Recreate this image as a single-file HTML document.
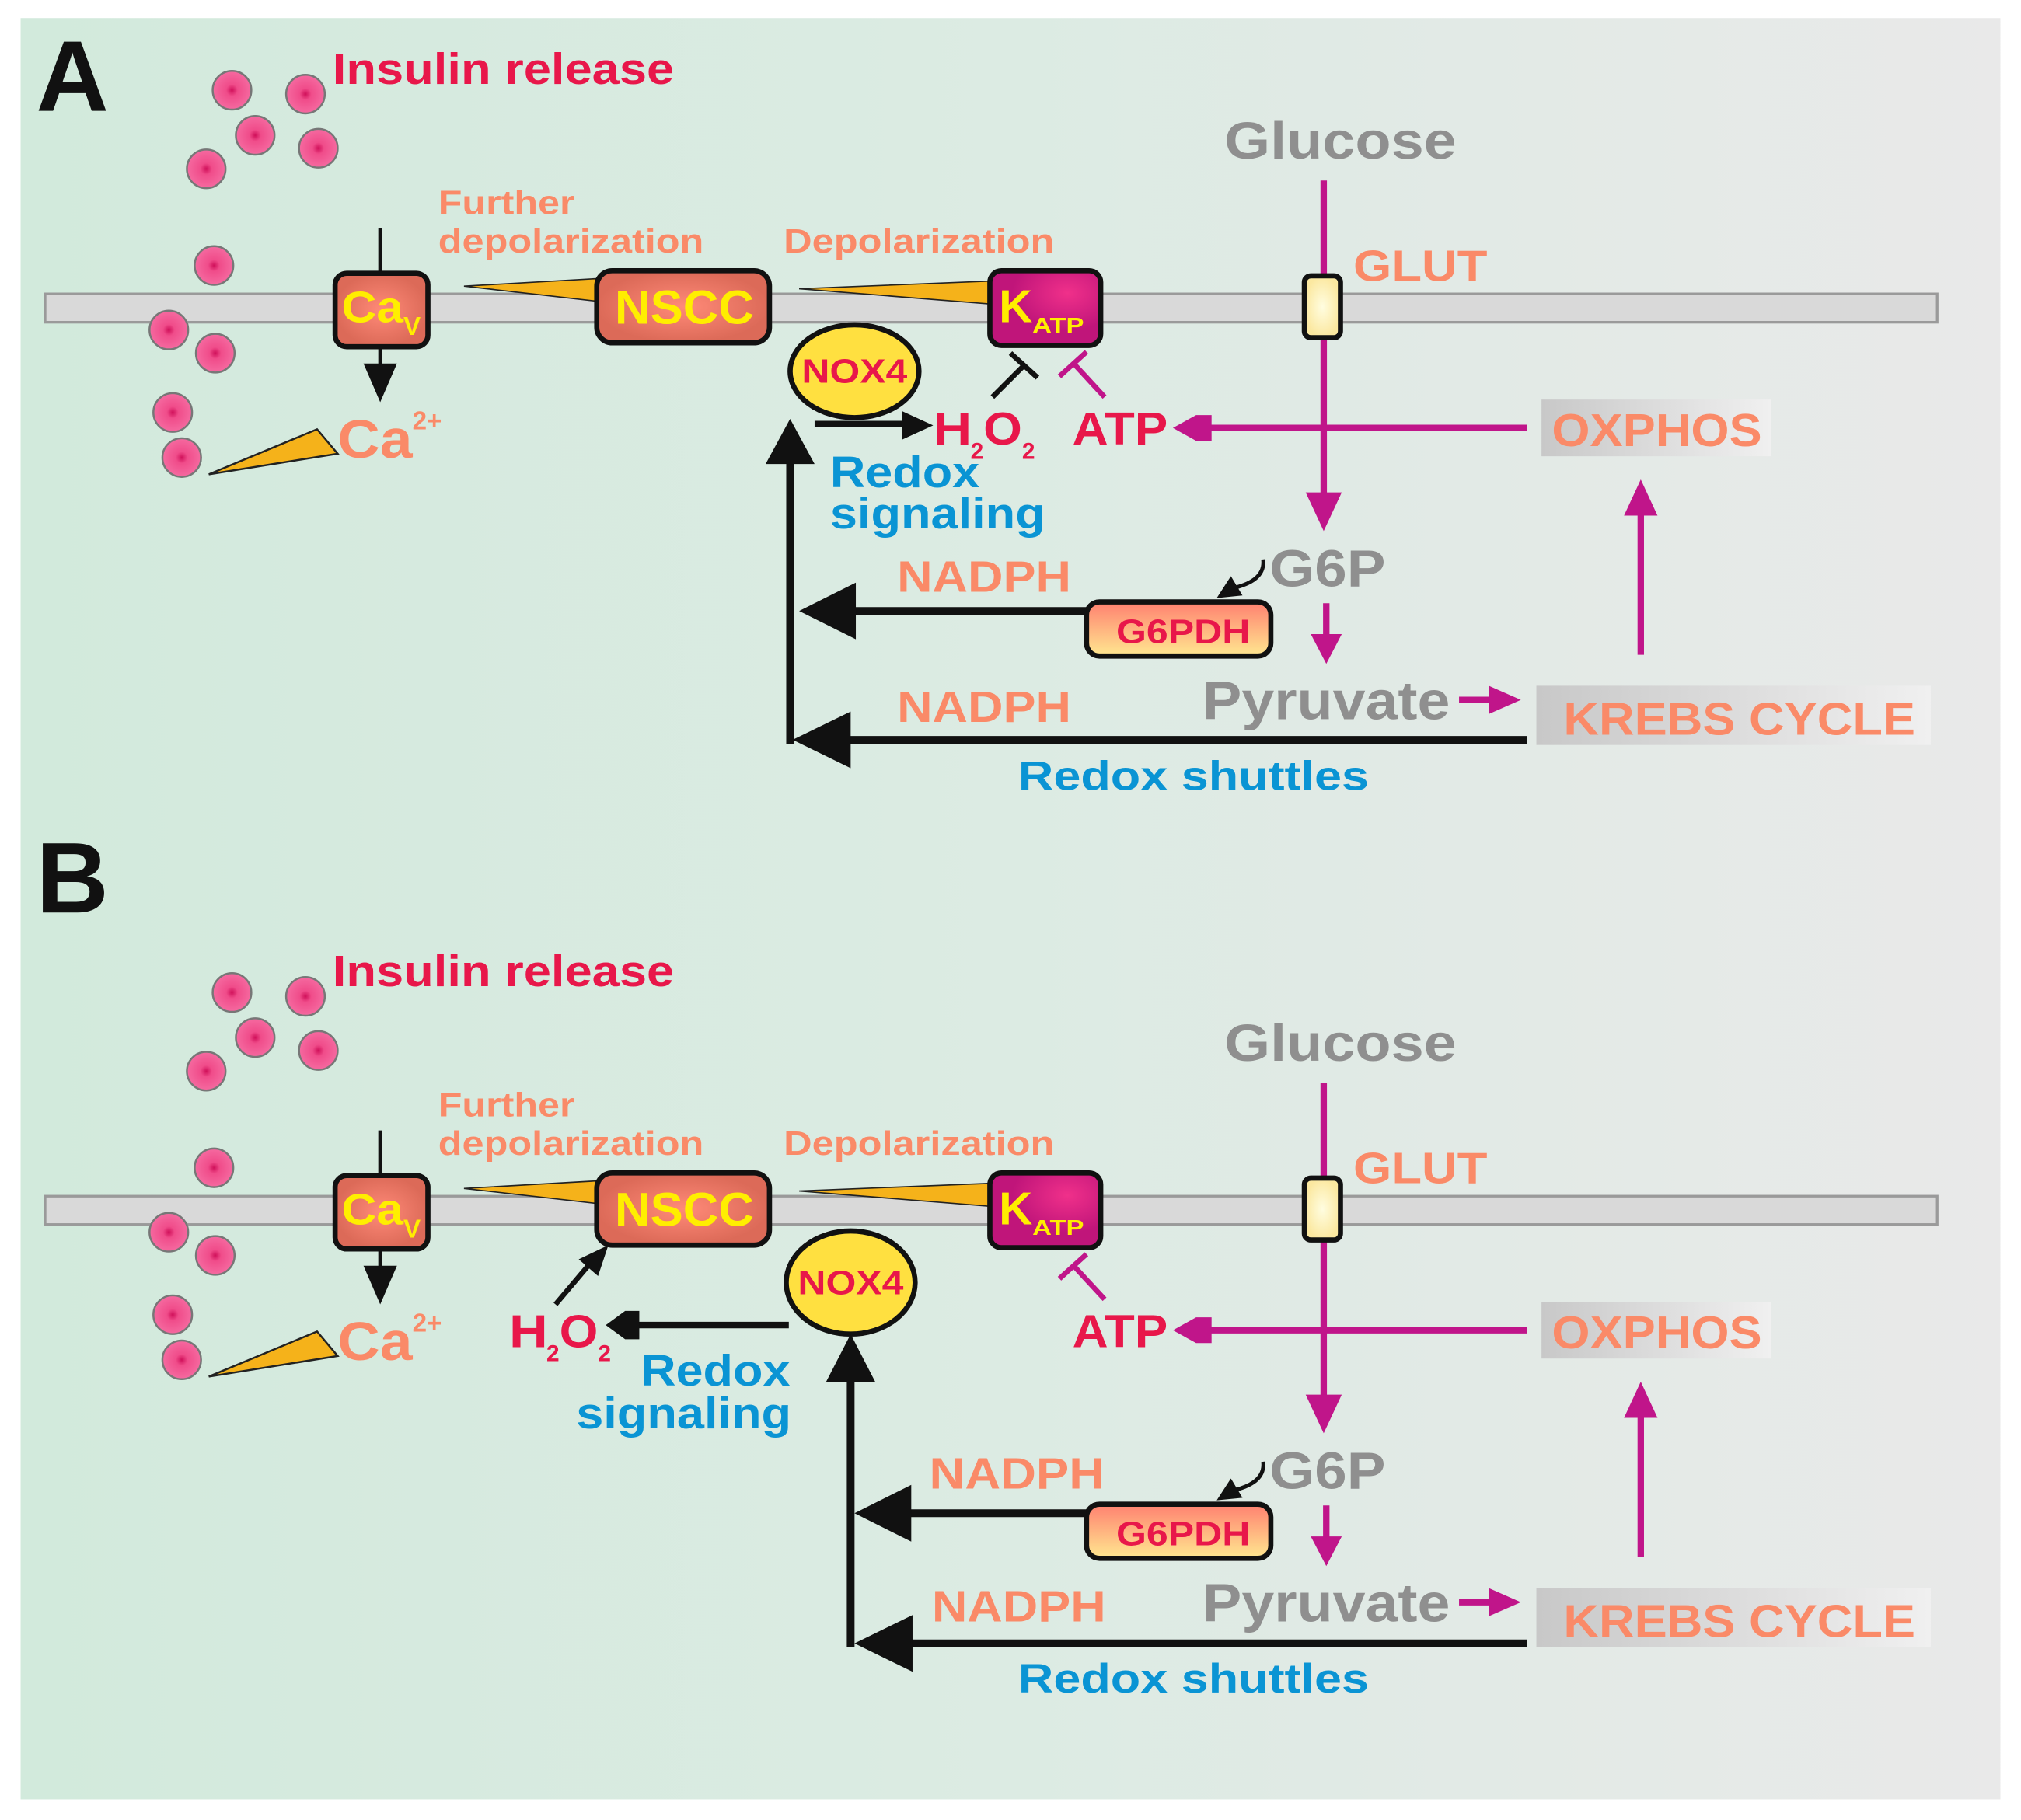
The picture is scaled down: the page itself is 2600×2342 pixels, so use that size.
<!DOCTYPE html>
<html><head><meta charset="utf-8"><style>
html,body{margin:0;padding:0;background:#fff}
svg{display:block}
text{font-family:"Liberation Sans",sans-serif;font-weight:bold}
.sal{fill:#fa8a68}.cr{fill:#e8174a}.gr{fill:#8f8f8f}.bl{fill:#0a94d4}.ye{fill:#ffee00}
</style></head><body>
<svg width="2600" height="2342" viewBox="0 0 1568 1412" preserveAspectRatio="none" xmlns="http://www.w3.org/2000/svg">
<defs>
<linearGradient id="bg" x1="0" x2="1" y1="0" y2="0"><stop offset="0" stop-color="#d2eadc"/><stop offset="0.5" stop-color="#dcebe3"/><stop offset="1" stop-color="#e9e9e9"/></linearGradient>
<radialGradient id="ves"><stop offset="0" stop-color="#d0105a"/><stop offset="0.3" stop-color="#f04c8a"/><stop offset="1" stop-color="#f56aa0"/></radialGradient>
<radialGradient id="ch"><stop offset="0" stop-color="#ff8a78"/><stop offset="1" stop-color="#dc6a58"/></radialGradient>
<radialGradient id="kat" cx="0.7" cy="0.3"><stop offset="0" stop-color="#f0308a"/><stop offset="1" stop-color="#c0157a"/></radialGradient>
<linearGradient id="g6" x1="0" y1="0" x2="0" y2="1"><stop offset="0" stop-color="#ff8070"/><stop offset="1" stop-color="#ffe890"/></linearGradient>
<linearGradient id="box" x1="0" x2="1"><stop offset="0" stop-color="#c8c8c8"/><stop offset="1" stop-color="#f0f0f0"/></linearGradient>
<radialGradient id="glu"><stop offset="0" stop-color="#fffde0"/><stop offset="1" stop-color="#fbe8a0"/></radialGradient>
<g id="common">
 <rect x="35" y="228" width="1468" height="22" fill="#d9d9d9" stroke="#9a9a9a" stroke-width="2"/>
 <!-- vesicles -->
 <g fill="url(#ves)" stroke="#777" stroke-width="1.5">
  <circle cx="180" cy="70" r="15"/><circle cx="237" cy="73" r="15"/><circle cx="198" cy="105" r="15"/><circle cx="247" cy="115" r="15"/><circle cx="160" cy="131" r="15"/><circle cx="166" cy="206" r="15"/><circle cx="131" cy="256" r="15"/><circle cx="167" cy="274" r="15"/><circle cx="134" cy="320" r="15"/><circle cx="141" cy="355" r="15"/>
 </g>
 <!-- wedges -->
 <polygon points="360,222 466,216 466,234" fill="#f5b21a" stroke="#222" stroke-width="1"/>
 <polygon points="620,224 770,218 770,236" fill="#f5b21a" stroke="#222" stroke-width="1"/>
 <polygon points="162,368 246,333 262,352" fill="#f5b21a" stroke="#222" stroke-width="1.5"/>
 <!-- Cav -->
 <line x1="295" y1="177" x2="295" y2="285" stroke="#111" stroke-width="3"/>
 <polygon points="282,282 308,282 295,312" fill="#111"/>
 <rect x="260" y="212" width="72" height="57" rx="9" fill="url(#ch)" stroke="#111" stroke-width="4"/>
 <text x="265" y="250" font-size="34" class="ye" textLength="48" lengthAdjust="spacingAndGlyphs">Ca</text>
 <text x="313" y="260" font-size="20" class="ye">V</text>
 <text x="262" y="355" font-size="42" class="sal" textLength="58" lengthAdjust="spacingAndGlyphs">Ca</text>
 <text x="320" y="333" font-size="20" class="sal">2+</text>
 <!-- NSCC -->
 <rect x="463" y="210" width="134" height="56" rx="12" fill="url(#ch)" stroke="#111" stroke-width="4"/>
 <text x="477" y="251" font-size="37" class="ye" textLength="108" lengthAdjust="spacingAndGlyphs">NSCC</text>
 <!-- KATP -->
 <rect x="768" y="210" width="86" height="58" rx="9" fill="url(#kat)" stroke="#111" stroke-width="4"/>
 <text x="775" y="250" font-size="36" class="ye">K</text>
 <text x="801" y="258" font-size="17" class="ye" textLength="40" lengthAdjust="spacingAndGlyphs">ATP</text>
 <!-- glucose path -->
 <line x1="1027" y1="140" x2="1027" y2="390" stroke="#c0158a" stroke-width="5"/>
 <polygon points="1013,382 1041,382 1027,412" fill="#c0158a"/>
 <rect x="1012" y="214" width="28" height="48" rx="5" fill="url(#glu)" stroke="#111" stroke-width="4"/>
 <text x="950" y="123" font-size="40" class="gr" textLength="180" lengthAdjust="spacingAndGlyphs">Glucose</text>
 <text x="1050" y="218" font-size="34" class="sal" textLength="104" lengthAdjust="spacingAndGlyphs">GLUT</text>
 <text x="340" y="166" font-size="26" class="sal" textLength="106" lengthAdjust="spacingAndGlyphs">Further</text>
 <text x="340" y="196" font-size="26" class="sal" textLength="206" lengthAdjust="spacingAndGlyphs">depolarization</text>
 <text x="608" y="196" font-size="26" class="sal" textLength="210" lengthAdjust="spacingAndGlyphs">Depolarization</text>
 <text x="258" y="65" font-size="34" class="cr" textLength="265" lengthAdjust="spacingAndGlyphs">Insulin release</text>
 <!-- ATP / OXPHOS -->
 <line x1="1185" y1="332" x2="930" y2="332" stroke="#c0158a" stroke-width="5"/>
 <polygon points="910,332 928,322 940,322 940,342 928,342" fill="#c0158a"/>
 <line x1="857" y1="308" x2="833" y2="282" stroke="#c0158a" stroke-width="4"/>
 <line x1="822" y1="292" x2="843" y2="273" stroke="#c0158a" stroke-width="4"/>
 <text x="832" y="345" font-size="36" class="cr" textLength="74" lengthAdjust="spacingAndGlyphs">ATP</text>
 <rect x="1196" y="310" width="178" height="44" fill="url(#box)"/>
 <text x="1204" y="346" font-size="36" class="sal" textLength="163" lengthAdjust="spacingAndGlyphs">OXPHOS</text>
 <line x1="1273" y1="508" x2="1273" y2="395" stroke="#c0158a" stroke-width="5"/>
 <polygon points="1260,400 1286,400 1273,372" fill="#c0158a"/>
 <!-- G6P -->
 <text x="985" y="455" font-size="40" class="gr" textLength="90" lengthAdjust="spacingAndGlyphs">G6P</text>
 <path d="M980,434 Q982,450 958,456" fill="none" stroke="#111" stroke-width="3"/>
 <polygon points="944,464 955,447 964,462" fill="#111"/>
 <rect x="843" y="467" width="143" height="42" rx="10" fill="url(#g6)" stroke="#111" stroke-width="4"/>
 <text x="866" y="499" font-size="26" class="cr" textLength="104" lengthAdjust="spacingAndGlyphs">G6PDH</text>
 <line x1="1029" y1="468" x2="1029" y2="500" stroke="#c0158a" stroke-width="5"/>
 <polygon points="1017,492 1041,492 1029,515" fill="#c0158a"/>
 <text x="933" y="558" font-size="42" class="gr" textLength="192" lengthAdjust="spacingAndGlyphs">Pyruvate</text>
 <line x1="1132" y1="543" x2="1162" y2="543" stroke="#c0158a" stroke-width="5"/>
 <polygon points="1155,532 1180,543 1155,554" fill="#c0158a"/>
 <rect x="1192" y="532" width="306" height="46" fill="url(#box)"/>
 <text x="1213" y="570" font-size="36" class="sal" textLength="273" lengthAdjust="spacingAndGlyphs">KREBS CYCLE</text>
 <text x="790" y="613" font-size="32" class="bl" textLength="272" lengthAdjust="spacingAndGlyphs">Redox shuttles</text>
</g>
</defs>
<rect x="0" y="0" width="1568" height="1412" fill="#fff"/>
<rect x="16" y="14" width="1536" height="1382" fill="url(#bg)"/>

<!-- Panel A -->
<text x="28" y="86" font-size="78" fill="#111" font-family="Liberation Sans">A</text>
<use href="#common"/>
<ellipse cx="663" cy="288" rx="50" ry="36" fill="#ffe040" stroke="#111" stroke-width="4"/>
<text x="622" y="297" font-size="26" class="cr" textLength="82" lengthAdjust="spacingAndGlyphs">NOX4</text>
<line x1="632" y1="329" x2="705" y2="329" stroke="#111" stroke-width="5"/>
<polygon points="700,319 724,330 700,341" fill="#111"/>
<text x="724" y="345" font-size="36" class="cr" textLength="30" lengthAdjust="spacingAndGlyphs">H</text>
<text x="753" y="356" font-size="18" class="cr">2</text>
<text x="763" y="345" font-size="36" class="cr" textLength="30" lengthAdjust="spacingAndGlyphs">O</text>
<text x="793" y="356" font-size="18" class="cr">2</text>
<line x1="770" y1="308" x2="795" y2="283" stroke="#111" stroke-width="4"/>
<line x1="784" y1="274" x2="805" y2="293" stroke="#111" stroke-width="4"/>
<text x="644" y="378" font-size="34" class="bl" textLength="116" lengthAdjust="spacingAndGlyphs">Redox</text>
<text x="644" y="410" font-size="34" class="bl" textLength="167" lengthAdjust="spacingAndGlyphs">signaling</text>
<text x="696" y="459" font-size="34" class="sal" textLength="135" lengthAdjust="spacingAndGlyphs">NADPH</text>
<text x="696" y="560" font-size="34" class="sal" textLength="135" lengthAdjust="spacingAndGlyphs">NADPH</text>
<line x1="843" y1="474" x2="650" y2="474" stroke="#111" stroke-width="6"/>
<polygon points="620,474 664,452 664,496" fill="#111"/>
<line x1="1185" y1="574" x2="645" y2="574" stroke="#111" stroke-width="6"/>
<polygon points="615,574 660,552 660,596" fill="#111"/>
<line x1="613" y1="577" x2="613" y2="350" stroke="#111" stroke-width="6"/>
<polygon points="613,325 594,360 632,360" fill="#111"/>

<!-- Panel B -->
<text x="28" y="708" font-size="78" fill="#111" font-family="Liberation Sans">B</text>
<use href="#common" transform="translate(0,700)"/>
<ellipse cx="660" cy="995" rx="50" ry="40" fill="#ffe040" stroke="#111" stroke-width="4"/>
<text x="619" y="1004" font-size="26" class="cr" textLength="82" lengthAdjust="spacingAndGlyphs">NOX4</text>
<line x1="612" y1="1028" x2="490" y2="1028" stroke="#111" stroke-width="5"/>
<polygon points="470,1028 485,1017 496,1017 496,1039 485,1039" fill="#111"/>
<text x="395" y="1045" font-size="36" class="cr" textLength="30" lengthAdjust="spacingAndGlyphs">H</text>
<text x="424" y="1056" font-size="18" class="cr">2</text>
<text x="434" y="1045" font-size="36" class="cr" textLength="30" lengthAdjust="spacingAndGlyphs">O</text>
<text x="464" y="1056" font-size="18" class="cr">2</text>
<line x1="431" y1="1012" x2="458" y2="980" stroke="#111" stroke-width="4"/>
<polygon points="472,966 449,977 464,990" fill="#111"/>
<text x="497" y="1075" font-size="34" class="bl" textLength="116" lengthAdjust="spacingAndGlyphs">Redox</text>
<text x="447" y="1108" font-size="34" class="bl" textLength="167" lengthAdjust="spacingAndGlyphs">signaling</text>
<text x="721" y="1155" font-size="34" class="sal" textLength="136" lengthAdjust="spacingAndGlyphs">NADPH</text>
<text x="723" y="1258" font-size="34" class="sal" textLength="135" lengthAdjust="spacingAndGlyphs">NADPH</text>
<line x1="843" y1="1174" x2="690" y2="1174" stroke="#111" stroke-width="6"/>
<polygon points="663,1174 707,1152 707,1196" fill="#111"/>
<line x1="1185" y1="1275" x2="690" y2="1275" stroke="#111" stroke-width="6"/>
<polygon points="663,1275 708,1253 708,1297" fill="#111"/>
<line x1="660" y1="1278" x2="660" y2="1060" stroke="#111" stroke-width="6"/>
<polygon points="660,1035 641,1072 679,1072" fill="#111"/>
</svg>
</body></html>
